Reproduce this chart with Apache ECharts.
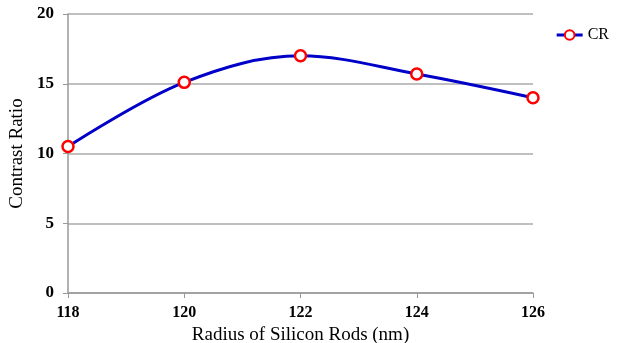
<!DOCTYPE html>
<html>
<head>
<meta charset="utf-8">
<script src="https://cdn.jsdelivr.net/npm/echarts@6/dist/echarts.min.js"></script>
<style>html,body{margin:0;padding:0;background:#fff;}#c{width:620px;height:343px;}</style>
</head>
<body>
<div id="c"></div>
<script>
const radius = [118, 120, 122, 124, 126];
const contrastRatio = [10.5, 15.1, 17.0, 15.7, 14.0];
const seriesName = 'CR';
const xTitle = 'Radius of Silicon Rods (nm)';
const yTitle = 'Contrast Ratio';

const chart = echarts.init(document.getElementById('c'));
chart.setOption({
  animation: false,
  backgroundColor: '#fff',
  textStyle: { fontFamily: 'Liberation Serif' },
  grid: { left: 68, right: 87, top: 14, bottom: 50, containLabel: false, outerBoundsMode: 'none' },
  legend: {
    right: 6, top: 22, itemWidth: 26, itemHeight: 12, itemGap: 4,
    lineStyle: { width: 3 },
    textStyle: { fontFamily: 'Liberation Serif', fontSize: 16, color: '#000' },
    data: [seriesName]
  },
  xAxis: {
    type: 'value', min: 118, max: 126, interval: 2,
    name: xTitle, nameLocation: 'middle', nameGap: 32,
    nameTextStyle: { fontFamily: 'Liberation Serif', fontSize: 19, color: '#000' },
    axisLine: { lineStyle: { color: '#999', width: 1.5 } },
    axisTick: { show: true, length: 5, lineStyle: { color: '#999' } },
    axisLabel: { fontFamily: 'Liberation Serif', fontSize: 16, fontWeight: 'bold', color: '#000', margin: 12 },
    splitLine: { show: false }
  },
  yAxis: {
    type: 'value', min: 0, max: 20, interval: 5,
    name: yTitle, nameLocation: 'middle', nameGap: 38, nameRotate: 90,
    nameTextStyle: { fontFamily: 'Liberation Serif', fontSize: 19, color: '#000' },
    axisLine: { show: true, lineStyle: { color: '#999', width: 1.5 } },
    axisTick: { show: true, length: 5, lineStyle: { color: '#999' } },
    axisLabel: { fontFamily: 'Liberation Serif', fontSize: 17, fontWeight: 'bold', color: '#000', margin: 14 },
    splitLine: { show: true, lineStyle: { color: '#aaa', width: 1.5 } }
  },
  series: [{
    name: seriesName,
    type: 'line',
    smooth: 0.35,
    data: radius.map((r, i) => [r, contrastRatio[i]]),
    symbol: 'circle',
    symbolSize: 11,
    lineStyle: { color: '#0000c8', width: 3 },
    itemStyle: { color: '#ffffff', borderColor: '#ff0000', borderWidth: 2.5 },
    z: 3
  }]
});
</script>
</body>
</html>
